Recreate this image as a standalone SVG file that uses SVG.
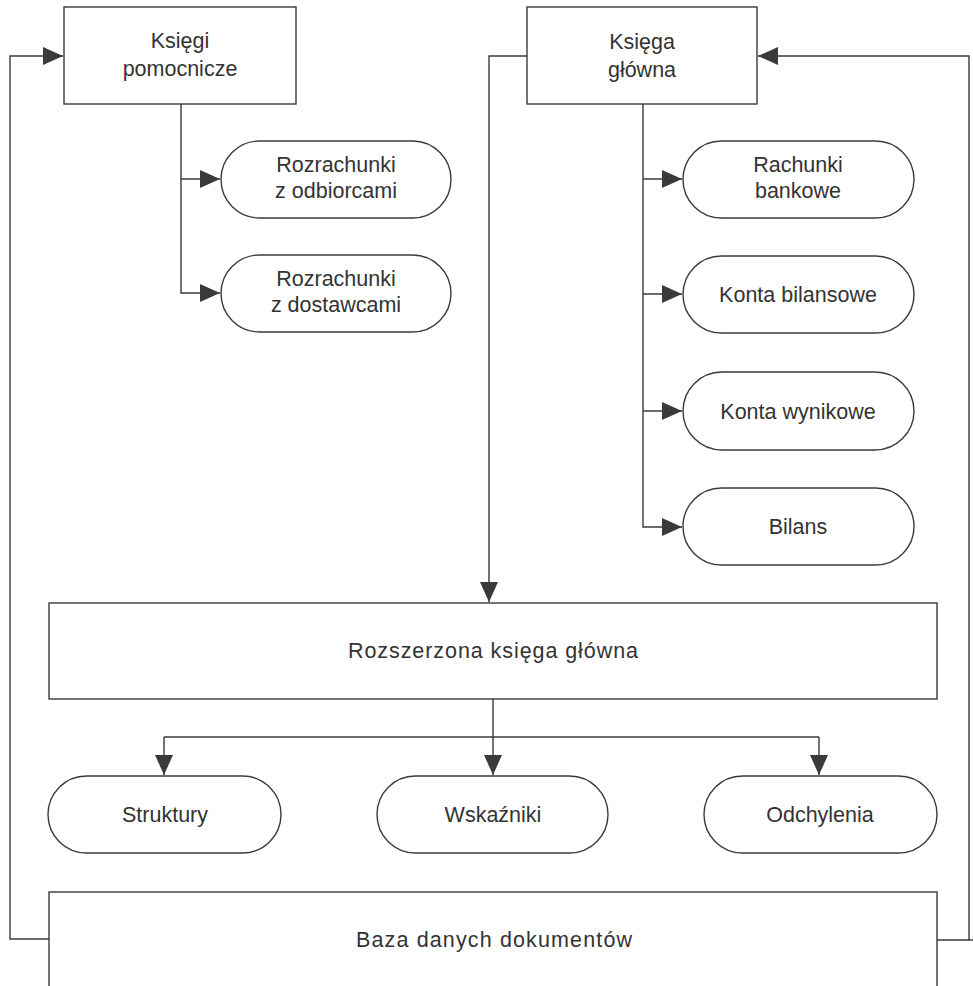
<svg xmlns="http://www.w3.org/2000/svg" width="973" height="986" viewBox="0 0 973 986">
<style>
.box{fill:#fff;stroke:#3a3a3a;stroke-width:1.4}
.t{font-family:"Liberation Sans",Arial,sans-serif;font-size:21.5px;fill:#333;text-anchor:middle}
.c{fill:none;stroke:#3a3a3a;stroke-width:1.4}
</style>
<defs>
<marker id="ah" markerUnits="userSpaceOnUse" markerWidth="20" markerHeight="18" refX="20" refY="9" orient="auto">
<path d="M0,0 L20,9 L0,18 z" fill="#3a3a3a"/>
</marker>
</defs>
<rect width="973" height="986" fill="#fff"/>
<g id="connectors">
<path class="c" d="M49,939 H10 V56 H63" marker-end="url(#ah)"/>
<path class="c" d="M937,940 H969 V56 H758" marker-end="url(#ah)"/>
<path class="c" d="M969,940 H973"/>
<path class="c" d="M527,56 H489 V602" marker-end="url(#ah)"/>
<path class="c" d="M181,104 V293 H220" marker-end="url(#ah)"/>
<path class="c" d="M181,179 H220" marker-end="url(#ah)"/>
<path class="c" d="M643,104 V527 H682" marker-end="url(#ah)"/>
<path class="c" d="M643,179 H682" marker-end="url(#ah)"/>
<path class="c" d="M643,294 H682" marker-end="url(#ah)"/>
<path class="c" d="M643,411 H682" marker-end="url(#ah)"/>
<path class="c" d="M493,699 V775" marker-end="url(#ah)"/>
<path class="c" d="M164,737 H819"/>
<path class="c" d="M164,737 V775" marker-end="url(#ah)"/>
<path class="c" d="M819,737 V775" marker-end="url(#ah)"/>
</g>
<g id="ksiegi-pomocnicze">
<rect class="box" x="64" y="7" width="232" height="97"/>
<text class="t" x="180" y="48">Księgi</text>
<text class="t" x="180" y="76">pomocnicze</text>
</g>
<g id="ksiega-glowna">
<rect class="box" x="527" y="7" width="230" height="97"/>
<text class="t" x="642" y="49">Księga</text>
<text class="t" x="642" y="77">główna</text>
</g>
<g id="rozrachunki-odbiorcy">
<rect class="box" x="221" y="141" width="230" height="77" rx="38.5"/>
<text class="t" x="336" y="172">Rozrachunki</text>
<text class="t" x="336" y="198">z odbiorcami</text>
</g>
<g id="rozrachunki-dostawcy">
<rect class="box" x="221" y="255" width="230" height="77" rx="38.5"/>
<text class="t" x="336" y="286">Rozrachunki</text>
<text class="t" x="336" y="312">z dostawcami</text>
</g>
<g id="rachunki-bankowe">
<rect class="box" x="683" y="141" width="231" height="77" rx="38.5"/>
<text class="t" x="798" y="172">Rachunki</text>
<text class="t" x="798" y="198">bankowe</text>
</g>
<g id="konta-bilansowe">
<rect class="box" x="683" y="256" width="231" height="77" rx="38.5"/>
<text class="t" x="798" y="302">Konta bilansowe</text>
</g>
<g id="konta-wynikowe">
<rect class="box" x="683" y="372" width="231" height="78" rx="39"/>
<text class="t" x="798" y="419">Konta wynikowe</text>
</g>
<g id="bilans">
<rect class="box" x="683" y="488" width="231" height="77" rx="38.5"/>
<text class="t" x="798" y="534">Bilans</text>
</g>
<g id="rozszerzona">
<rect class="box" x="49" y="603" width="888" height="96"/>
<text class="t" x="493" y="658" textLength="290">Rozszerzona księga główna</text>
</g>
<g id="struktury">
<rect class="box" x="48" y="776" width="233" height="77" rx="38.5"/>
<text class="t" x="165" y="822">Struktury</text>
</g>
<g id="wskazniki">
<rect class="box" x="377" y="776" width="231" height="77" rx="38.5"/>
<text class="t" x="493" y="822">Wskaźniki</text>
</g>
<g id="odchylenia">
<rect class="box" x="704" y="776" width="233" height="77" rx="38.5"/>
<text class="t" x="820" y="822">Odchylenia</text>
</g>
<g id="baza">
<rect class="box" x="49" y="892" width="888" height="110"/>
<text class="t" x="494" y="947" textLength="276">Baza danych dokumentów</text>
</g>
</svg>
